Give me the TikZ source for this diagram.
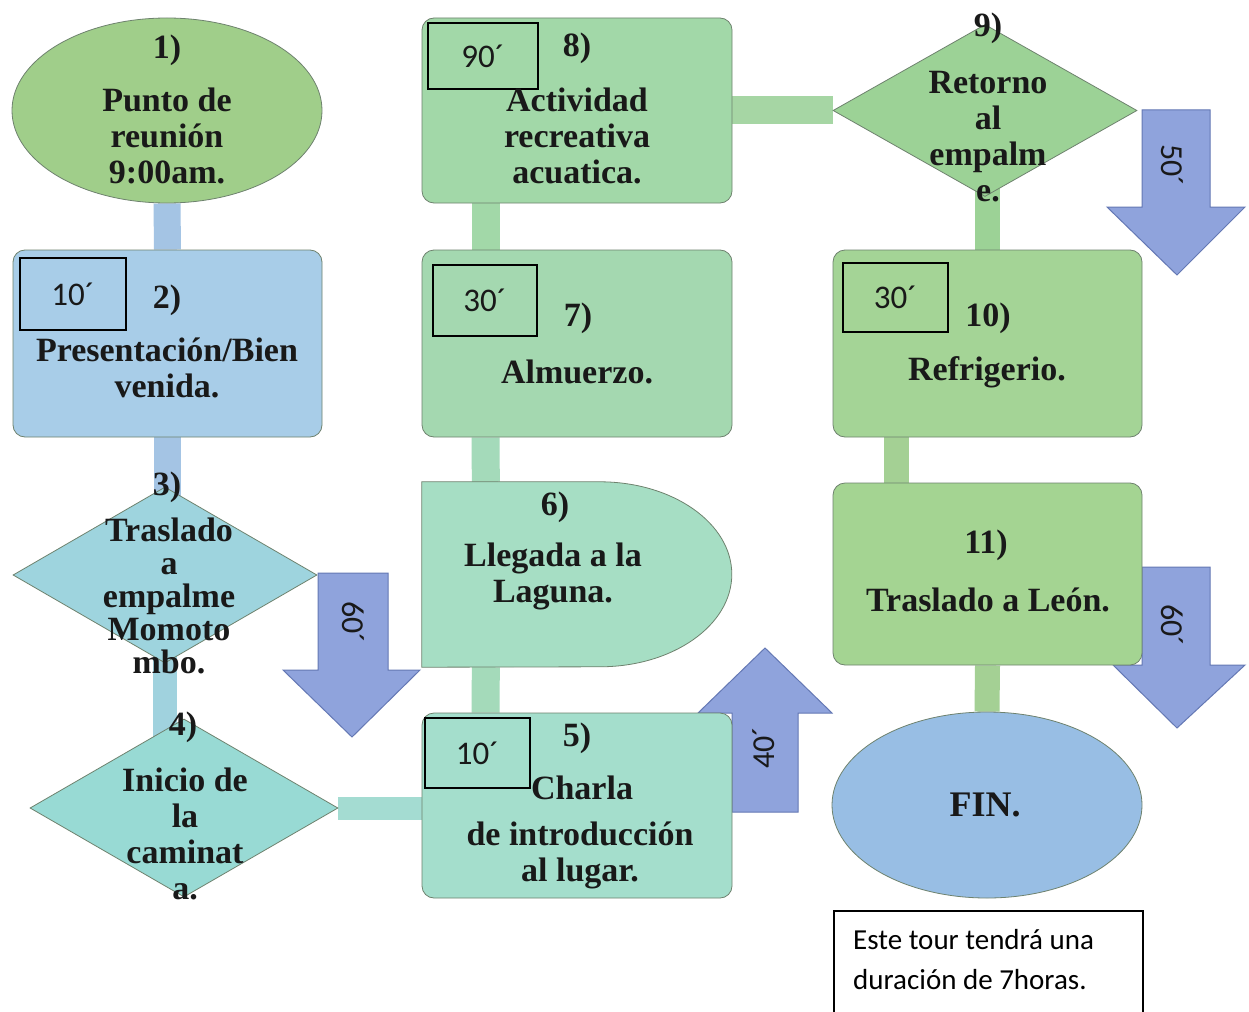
\documentclass[tikz,border=0pt]{standalone}
\usepackage{fontspec}
\setmainfont{Liberation Serif}
\newfontfamily\calib{Carlito}
\usetikzlibrary{shapes.geometric,backgrounds,calc}
\definecolor{c1}{RGB}{160,206,138}
\definecolor{c2}{RGB}{168,205,232}
\definecolor{cb}{RGB}{164,196,228}
\definecolor{c3}{RGB}{158,212,222}
\definecolor{c34}{RGB}{160,210,222}
\definecolor{c4}{RGB}{152,218,212}
\definecolor{c45}{RGB}{164,220,210}
\definecolor{c5}{RGB}{164,222,204}
\definecolor{c6}{RGB}{166,222,196}
\definecolor{cg1}{RGB}{164,218,186}
\definecolor{c7}{RGB}{164,216,176}
\definecolor{c8}{RGB}{162,216,168}
\definecolor{c89}{RGB}{166,214,164}
\definecolor{c9}{RGB}{156,210,150}
\definecolor{c10}{RGB}{164,212,150}
\definecolor{c11}{RGB}{164,212,146}
\definecolor{cgc}{RGB}{164,208,148}
\definecolor{cfin}{RGB}{152,190,228}
\definecolor{carrow}{RGB}{143,163,220}
\definecolor{carrowe}{RGB}{100,120,180}
\definecolor{edge}{RGB}{110,130,110}
\definecolor{txt}{RGB}{25,25,25}
\begin{document}
\begin{tikzpicture}[x=1pt,y=-1pt,
  lbl/.style={font=\fontsize{34}{36}\selectfont\bfseries, text=txt, align=center, inner sep=0},
  tbox/.style={draw=black, line width=1.8pt, font=\calib\fontsize{33}{36}\selectfont, text=txt, inner sep=0},
  rbox/.style={draw=edge, line width=0.8pt, rounded corners=12pt, minimum width=310pt, inner sep=0},
  dia/.style={diamond, draw=edge, line width=0.8pt, inner sep=0},
  ell/.style={ellipse, draw=edge, line width=0.8pt, inner sep=0, minimum width=310pt},
  conn/.style={line width=27pt},
  barrow/.style={fill=carrow, draw=carrowe, line width=1pt, line join=miter},
  atext/.style={font=\calib\fontsize{32}{34}\selectfont, text=txt, inner sep=0},
]
\useasboundingbox (0,0) rectangle (1249,1011);

% block arrows
\draw[barrow] (318,573) -- (388,573) -- (388,670) -- (420,670) -- (352,737) -- (283,670) -- (318,670) -- cycle;
\draw[barrow] (732,812) -- (732,713) -- (698,713) -- (765,648) -- (832,713) -- (798,713) -- (798,812) -- cycle;
\draw[barrow] (1142,110) -- (1210,110) -- (1210,207) -- (1245,207) -- (1177,275) -- (1107,207) -- (1142,207) -- cycle;
\draw[barrow] (1142,567) -- (1210,567) -- (1210,665) -- (1245,665) -- (1177,728) -- (1113,665) -- (1142,665) -- cycle;
\node[atext, rotate=-90] (t60a) at (353,622) {60´};
\node[atext, rotate=90] (t40) at (764,748) {40´};
\node[atext, rotate=-90] (t50) at (1172,165) {50´};
\node[atext, rotate=-90] (t60b) at (1172,625) {60´};

% shapes
\node[ell, fill=c1, minimum height=185pt] (n1) at (167,110.5) {};
\node[rbox, fill=c2, minimum height=187pt, minimum width=309pt] (n2) at (167.5,343.5) {};
\node[dia, fill=c3, minimum width=304pt, minimum height=176pt] (n3) at (165,575) {};
\node[dia, fill=c4, minimum width=308pt, minimum height=178pt] (n4) at (184,808) {};
\node[rbox, fill=c5, minimum height=185pt] (n5) at (577,805.5) {};
\node[inner sep=0, minimum width=310pt, minimum height=185pt] (n6) at (577,574.5) {};
\draw[fill=c6, draw=edge, line width=0.8pt] (n6.south west) -- (n6.north west) -- ++(178,0)
  arc[start angle=90, end angle=-90, x radius=132pt, y radius=92.5pt] -- cycle;
\node[rbox, fill=c7, minimum height=187pt] (n7) at (577,343.5) {};
\node[rbox, fill=c8, minimum height=185pt] (n8) at (577,110.5) {};
\node[dia, fill=c9, minimum width=304pt, minimum height=172pt] (n9) at (985,110.5) {};
\node[rbox, fill=c10, minimum height=187pt, minimum width=309pt] (n10) at (987.5,343.5) {};
\node[rbox, fill=c11, minimum height=182pt, minimum width=309pt] (n11) at (987.5,574) {};
\node[ell, fill=cfin, minimum height=186pt] (fin) at (987,805) {};

% connectors
\begin{pgfonlayer}{background}
\fill[white] (0,0) rectangle (1249,1011);
\draw[conn, cb] (n1.south) -- (n2.north);
\draw[conn, cb] (n2.south) -- (n2.south |- n3.center);
\draw[conn, c34, line width=24pt] (n3.south) ++(0,-10) -- (n3.south |- n4.center);
\draw[conn, c45, line width=23pt] (n4.east) -- (n5.west |- n4.east);
\draw[conn, cg1, line width=28pt] ([xshift=64pt]n5.north west) -- ([xshift=64pt]n6.south west);
\draw[conn, cg1, line width=28pt] ([xshift=64pt]n6.north west) -- ([xshift=64pt]n7.south west);
\draw[conn, c8, line width=28pt] ([xshift=64pt]n7.north west) -- ([xshift=64pt]n8.south west);
\draw[conn, c89, line width=28pt] (n8.east) -- (n9.west);
\draw[conn, c9, line width=25pt] (n10.north |- n9.center) -- (n10.north);
\draw[conn, cgc, line width=25pt] ([xshift=64pt]n10.south west) -- ([xshift=64pt]n11.north west);
\draw[conn, cgc, line width=25pt] (n11.south) -- (fin.north);
\end{pgfonlayer}

% time boxes
\node[tbox, minimum width=106pt, minimum height=72pt] (d2) at (73,294) {10´};
\node[tbox, minimum width=105pt, minimum height=70pt] (d5) at (477.5,753) {10´};
\node[tbox, minimum width=104pt, minimum height=71pt] (d7) at (485,300.5) {30´};
\node[tbox, minimum width=110pt, minimum height=66pt] (d8) at (483,56) {90´};
\node[tbox, minimum width=105pt, minimum height=69pt] (d10) at (895.5,297.5) {30´};

% labels
\node[lbl] (l1a) at (167,50) {1)};
\node[lbl] (l1b) at (167,136) {Punto de\\reunión\\9:00am.};
\node[lbl] (l2a) at (167,300) {2)};
\node[lbl] (l2b) at (167,368) {Presentación/Bien\\venida.};
\node[lbl] (l3a) at (167,487) {3)};
\node[lbl, font=\fontsize{34}{33}\selectfont\bfseries] (l3b) at (169,596) {Traslado\\a\\empalme\\Momoto\\mbo.};
\node[lbl] (l4a) at (183,727) {4)};
\node[lbl] (l4b) at (185,834) {Inicio de\\la\\caminat\\a.};
\node[lbl] (l5a) at (577,738) {5)};
\node[lbl] (l5b) at (582,788) {Charla};
\node[lbl] (l5c) at (580,855) {de introducción\\al lugar.};
\node[lbl] (l6a) at (555,507) {6)};
\node[lbl] (l6b) at (553,576) {Llegada a la\\Laguna.};
\node[lbl] (l7a) at (578,318) {7)};
\node[lbl] (l7b) at (577,372) {Almuerzo.};
\node[lbl] (l8a) at (577,48) {8)};
\node[lbl] (l8b) at (577,136) {Actividad\\recreativa\\acuatica.};
\node[lbl] (l9a) at (988,28) {9)};
\node[lbl] (l9b) at (988,137) {Retorno\\al\\empalm\\e.};
\node[lbl] (l10a) at (988,318) {10)};
\node[lbl] (l10b) at (987,372) {Refrigerio.};
\node[lbl] (l11a) at (986,545) {11)};
\node[lbl] (l11b) at (988,600) {Traslado a León.};
\node[lbl, font=\fontsize{36}{38}\selectfont\bfseries] (lfin) at (985,805) {FIN.};

% note
\node[draw=black, line width=1.5pt, minimum width=309pt, minimum height=140pt, anchor=north west, inner sep=0] (note) at (833,910) {};
\node[anchor=west, align=left, inner sep=0, text=black, font=\calib\fontsize{29}{40}\selectfont] (notetext) at (853,960) {Este tour tendrá una\\duración de 7horas.};
\end{tikzpicture}
\end{document}
